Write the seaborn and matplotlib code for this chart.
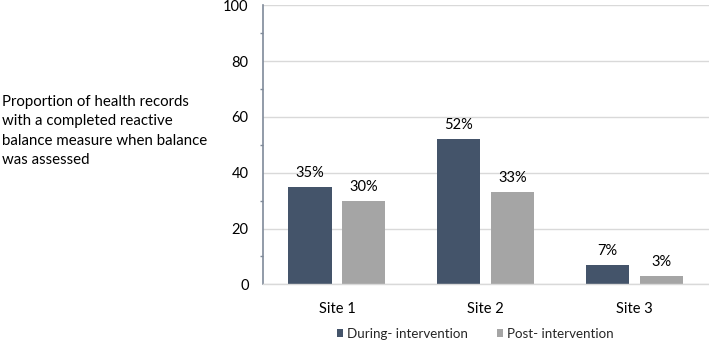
import matplotlib
matplotlib.use("Agg")
import matplotlib.pyplot as plt
import seaborn as sns
import pandas as pd
from matplotlib.ticker import MultipleLocator

sites = ["Site 1", "Site 2", "Site 3"]
during = [35, 52, 7]
post = [30, 33, 3]
series_names = ["During- intervention", "Post- intervention"]
colors = ["#44546A", "#A5A5A5"]
ylabel = "Proportion of health records\nwith a completed reactive\nbalance measure when balance\nwas assessed"

df = pd.DataFrame({
    "site": sites * 2,
    "value": during + post,
    "series": [series_names[0]] * 3 + [series_names[1]] * 3,
})

sns.set_theme(style="white")
plt.rcParams["font.family"] = ["Lato", "DejaVu Sans"]

W, H = 709, 341
fig = plt.figure(figsize=(W / 100, H / 100), dpi=100)
ax = fig.add_axes([262.5 / W, 1 - 284.3 / H, (W - 262.5) / W, (284.3 - 5.3) / H])

sns.barplot(data=df, x="site", y="value", hue="series", palette=colors,
            width=0.725, gap=0.2, ax=ax, legend=True, saturation=1,
            linewidth=0, edgecolor="none")

ax.set_ylim(0, 100)
ax.set_xlim(-0.5, 2.5)
ax.yaxis.set_major_locator(MultipleLocator(20))
ax.yaxis.set_minor_locator(MultipleLocator(10))
ax.grid(axis="y", which="major", color="#D9D9D9", linewidth=1)
ax.set_axisbelow(True)
ax.set_xlabel("")
ax.set_ylabel("")

for s in ["top", "right"]:
    ax.spines[s].set_visible(False)
ax.spines["left"].set_color("#7F8A99")
ax.spines["left"].set_linewidth(1.2)
ax.spines["bottom"].set_color("#D9D9D9")
ax.spines["bottom"].set_linewidth(1)

ax.tick_params(axis="y", which="major", direction="out", length=3, width=1,
               color="#7F8A99", pad=7, labelsize=10.5, labelcolor="#000000")
ax.tick_params(axis="y", which="minor", direction="out", length=2, width=1,
               color="#7F8A99", left=True)
ax.tick_params(axis="x", length=0, pad=13, labelsize=10.5, labelcolor="#000000")

for cont in ax.containers:
    ax.bar_label(cont, labels=[f"{int(v)}%" for v in cont.datavalues],
                 padding=5, fontsize=10.5, color="#000000")

leg = ax.legend(loc="center", bbox_to_anchor=(475 / W, 1 - 334 / H),
                bbox_transform=fig.transFigure, ncol=2, frameon=False,
                fontsize=9.6, handlelength=0.5, handleheight=0.5,
                handletextpad=0.25, columnspacing=2.2, borderpad=0)

fig.text(2 / W, 1 - 95 / H, ylabel, ha="left", va="top", fontsize=10.8,
         linespacing=1.5, color="#000000",
         transform=fig.transFigure)

fig.savefig("out.png", dpi=100)
